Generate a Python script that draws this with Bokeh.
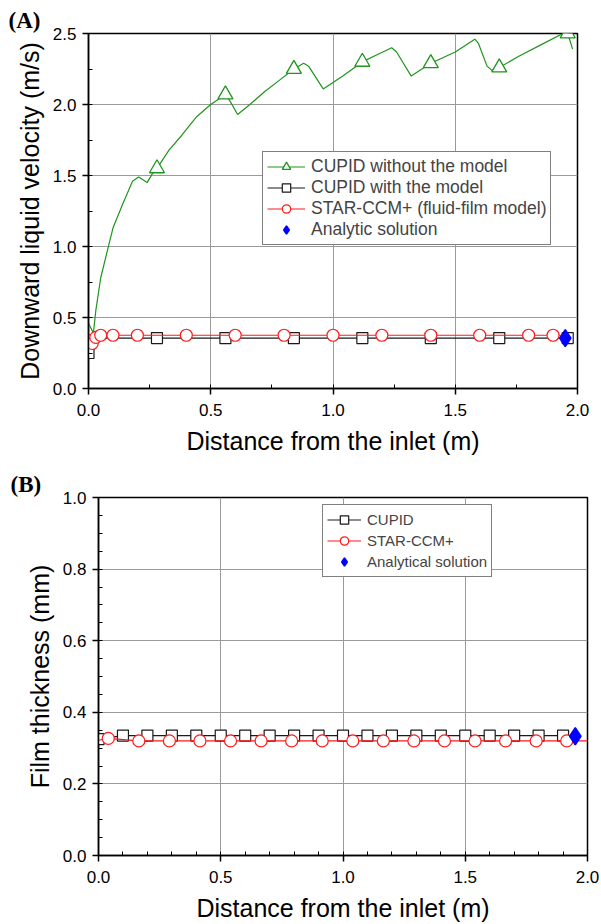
from bokeh.plotting import figure
from bokeh.models import Range1d, Legend, LegendItem, SingleIntervalTicker, PrintfTickFormatter
from bokeh.embed import file_html
from bokeh.resources import INLINE

# ---------------- Panel A data: downward liquid velocity (m/s) ----------------
a_nomodel_line_x = [0.0, 0.02, 0.03, 0.05, 0.08, 0.10, 0.14, 0.18, 0.205, 0.24, 0.26, 0.28, 0.33, 0.38,
                    0.44, 0.50, 0.56, 0.58, 0.61, 0.66, 0.72, 0.78, 0.84, 0.88, 0.90, 0.96, 1.04, 1.12,
                    1.18, 1.24, 1.26, 1.32, 1.40, 1.50, 1.58, 1.595, 1.63, 1.65, 1.68, 1.76, 1.85, 1.94,
                    1.96, 1.98]
a_nomodel_line_y = [0.46, 0.39, 0.55, 0.78, 0.99, 1.13, 1.30, 1.46, 1.49, 1.45, 1.51, 1.55, 1.68, 1.78,
                    1.91, 2.00, 2.07, 2.02, 1.93, 2.00, 2.09, 2.17, 2.25, 2.29, 2.27, 2.11, 2.20, 2.30,
                    2.35, 2.40, 2.37, 2.20, 2.29, 2.37, 2.46, 2.43, 2.27, 2.24, 2.26, 2.34, 2.42, 2.50,
                    2.50, 2.39]
a_nomodel_mark_x = [0.28, 0.56, 0.84, 1.12, 1.40, 1.68, 1.96]
a_nomodel_mark_y = [1.55, 2.07, 2.25, 2.30, 2.29, 2.26, 2.50]

a_model_line_x = [0.0, 0.01, 0.02, 0.05, 0.28, 0.56, 0.84, 1.12, 1.40, 1.68, 1.96, 1.98]
a_model_line_y = [0.25, 0.34, 0.355, 0.355, 0.355, 0.355, 0.355, 0.355, 0.355, 0.355, 0.355, 0.355]
a_model_mark_x = [0.0, 0.28, 0.56, 0.84, 1.12, 1.40, 1.68, 1.96]
a_model_mark_y = [0.25, 0.355, 0.355, 0.355, 0.355, 0.355, 0.355, 0.355]

a_star_line_x = [0.005, 0.015, 0.03, 0.05, 0.1, 0.2, 0.4, 0.6, 0.8, 1.0, 1.2, 1.4, 1.6, 1.8, 1.9, 1.95]
a_star_line_y = [0.335, 0.317, 0.36, 0.375, 0.375, 0.375, 0.375, 0.375, 0.375, 0.375, 0.375, 0.375,
                 0.375, 0.375, 0.375, 0.375]
a_star_mark_x = [0.005, 0.015, 0.03, 0.05, 0.1, 0.2, 0.4, 0.6, 0.8, 1.0, 1.2, 1.4, 1.6, 1.8, 1.9]
a_star_mark_y = [0.335, 0.317, 0.36, 0.375, 0.375, 0.375, 0.375, 0.375, 0.375, 0.375, 0.375, 0.375,
                 0.375, 0.375, 0.375]

a_analytic_x = [1.95]
a_analytic_y = [0.355]

# ---------------- Panel B data: film thickness (mm) ----------------
b_cupid_line_x = [0.0, 0.1, 0.2, 0.3, 0.4, 0.5, 0.6, 0.7, 0.8, 0.9, 1.0, 1.1, 1.2, 1.3, 1.4, 1.5,
                  1.6, 1.7, 1.8, 1.9, 1.95]
b_cupid_line_y = [0.325, 0.335, 0.335, 0.335, 0.335, 0.335, 0.335, 0.335, 0.335, 0.335, 0.335, 0.335,
                  0.335, 0.335, 0.335, 0.335, 0.335, 0.335, 0.335, 0.335, 0.335]
b_cupid_mark_x = [0.0, 0.1, 0.2, 0.3, 0.4, 0.5, 0.6, 0.7, 0.8, 0.9, 1.0, 1.1, 1.2, 1.3, 1.4, 1.5,
                  1.6, 1.7, 1.8, 1.9]
b_cupid_mark_y = [0.325, 0.335, 0.335, 0.335, 0.335, 0.335, 0.335, 0.335, 0.335, 0.335, 0.335, 0.335,
                  0.335, 0.335, 0.335, 0.335, 0.335, 0.335, 0.335, 0.335]

b_star_line_x = [0.0, 0.04, 0.165, 0.29, 0.415, 0.54, 0.665, 0.79, 0.915, 1.04, 1.165, 1.29, 1.415,
                 1.54, 1.665, 1.79, 1.915, 2.0]
b_star_line_y = [0.322, 0.327, 0.32, 0.32, 0.32, 0.32, 0.32, 0.32, 0.32, 0.32, 0.32, 0.32, 0.32,
                 0.32, 0.32, 0.32, 0.32, 0.32]
b_star_mark_x = [0.04, 0.165, 0.29, 0.415, 0.54, 0.665, 0.79, 0.915, 1.04, 1.165, 1.29, 1.415,
                 1.54, 1.665, 1.79, 1.915]
b_star_mark_y = [0.327, 0.32, 0.32, 0.32, 0.32, 0.32, 0.32, 0.32, 0.32, 0.32, 0.32, 0.32,
                 0.32, 0.32, 0.32, 0.32]

b_analytic_x = [1.95]
b_analytic_y = [0.333]

x_label = "Distance from the inlet (m)"
a_y_label = "Downward liquid velocity (m/s)"
b_y_label = "Film thickness (mm)"

GREEN = "#1f951f"
RED = "#ff1a1a"
BLACK = "#1a1a1a"
BLUE = "#0000ff"
FONT = "Liberation Sans"


def style(p, xint, xminor, yint, yminor, ylabel, panel_tag, tag_offset):
    p.xaxis.ticker = SingleIntervalTicker(interval=xint, num_minor_ticks=xminor)
    p.yaxis.ticker = SingleIntervalTicker(interval=yint, num_minor_ticks=yminor)
    p.xgrid.ticker = SingleIntervalTicker(interval=xint)
    p.ygrid.ticker = SingleIntervalTicker(interval=yint)
    p.xaxis.formatter = PrintfTickFormatter(format="%.1f")
    p.yaxis.formatter = PrintfTickFormatter(format="%.1f")
    for ax in (p.xaxis[0], p.yaxis[0]):
        ax.axis_line_color = "black"
        ax.axis_line_width = 1.5
        ax.major_tick_line_color = "black"
        ax.major_tick_line_width = 1.5
        ax.minor_tick_line_color = "black"
        ax.major_tick_out = 6
        ax.major_tick_in = 0
        ax.minor_tick_out = 0
        ax.minor_tick_in = 4
        ax.major_label_text_font = FONT
        ax.major_label_text_font_size = "17px"
        ax.major_label_text_color = "black"
        ax.axis_label_text_font = FONT
        ax.axis_label_text_font_size = "25px"
        ax.axis_label_text_font_style = "normal"
        ax.axis_label_text_color = "black"
    p.xaxis.major_label_standoff = 9
    p.xaxis.axis_label_standoff = 8
    p.yaxis.major_label_standoff = 6
    p.yaxis.axis_label_standoff = 6
    p.xaxis.axis_label = x_label
    p.yaxis.axis_label = ylabel
    p.grid.grid_line_color = "#9a9a9a"
    p.grid.grid_line_width = 1
    p.outline_line_color = "black"
    p.outline_line_width = 1.5
    p.outline_line_alpha = 1.0
    p.background_fill_color = "white"
    p.border_fill_color = "white"
    # panel tag "(A)" / "(B)" as a left-aligned title shifted into the left margin
    p.title.text = panel_tag
    p.title.align = "left"
    p.title.offset = tag_offset
    p.title.standoff = 2
    p.title.text_font = "Liberation Serif"
    p.title.text_font_style = "bold"
    p.title.text_font_size = "23px"
    p.title.text_color = "black"


def style_legend(leg, size, gw):
    leg.label_text_font = FONT
    leg.label_text_font_size = size
    leg.glyph_width = gw
    leg.glyph_height = 21
    leg.label_height = 21
    leg.label_standoff = 6
    leg.spacing = 0
    leg.padding = 4
    leg.margin = 0
    leg.border_line_color = "black"
    leg.border_line_width = 1.2
    leg.background_fill_alpha = 1.0


# ---------------- Figure A ----------------
pA = figure(frame_width=489, frame_height=355, x_range=Range1d(0, 2), y_range=Range1d(0, 2.5),
            min_border_left=88, min_border_right=16, min_border_top=33, min_border_bottom=69,
            output_backend="svg", toolbar_location=None)
style(pA, 0.5, 2, 0.5, 2, a_y_label, "(A)", -80)

gl = pA.line(a_nomodel_line_x, a_nomodel_line_y, line_color=GREEN, line_width=1.2)
gm = pA.scatter(a_nomodel_mark_x, a_nomodel_mark_y, marker="triangle", size=15,
                line_color=GREEN, line_width=1.3, fill_color="white")
kl = pA.line(a_model_line_x, a_model_line_y, line_color=BLACK, line_width=1.2)
km = pA.scatter(a_model_mark_x, a_model_mark_y, marker="square", size=11,
                line_color=BLACK, line_width=1.2, fill_color="white")
rl = pA.line(a_star_line_x, a_star_line_y, line_color=RED, line_width=1.2)
rm = pA.scatter(a_star_mark_x, a_star_mark_y, marker="circle", size=12,
                line_color=RED, line_width=1.2, fill_color="white")
bd = pA.scatter(a_analytic_x, a_analytic_y, marker="diamond", size=17,
                line_color=BLUE, line_width=1.5, fill_color=BLUE)

legA = Legend(items=[
    LegendItem(label="CUPID without the model", renderers=[gl, gm]),
    LegendItem(label="CUPID with the model", renderers=[kl, km]),
    LegendItem(label="STAR-CCM+ (fluid-film model)", renderers=[rl, rm]),
    LegendItem(label="Analytic solution", renderers=[bd]),
], location=(174, 143))
style_legend(legA, "17.5px", 38)
pA.add_layout(legA, "center")

# ---------------- Figure B ----------------
pB = figure(frame_width=489, frame_height=358, x_range=Range1d(0, 2), y_range=Range1d(0, 1.0),
            min_border_left=98, min_border_right=14, min_border_top=40, min_border_bottom=69,
            output_backend="svg", toolbar_location=None)
style(pB, 0.5, 5, 0.2, 4, b_y_label, "(B)", -88)

bkl = pB.line(b_cupid_line_x, b_cupid_line_y, line_color=BLACK, line_width=1.2)
bkm = pB.scatter(b_cupid_mark_x, b_cupid_mark_y, marker="square", size=11,
                 line_color=BLACK, line_width=1.2, fill_color="white")
brl = pB.line(b_star_line_x, b_star_line_y, line_color=RED, line_width=1.2)
brm = pB.scatter(b_star_mark_x, b_star_mark_y, marker="circle", size=12,
                 line_color=RED, line_width=1.2, fill_color="white")
bbd = pB.scatter(b_analytic_x, b_analytic_y, marker="diamond", size=17,
                 line_color=BLUE, line_width=1.5, fill_color=BLUE)

legB = Legend(items=[
    LegendItem(label="CUPID", renderers=[bkl, bkm]),
    LegendItem(label="STAR-CCM+", renderers=[brl, brm]),
    LegendItem(label="Analytical solution", renderers=[bbd]),
], location=(224, 278))
style_legend(legB, "15px", 34)
pB.add_layout(legB, "center")

open("out.html", "w").write(file_html([pA, pB], INLINE))
